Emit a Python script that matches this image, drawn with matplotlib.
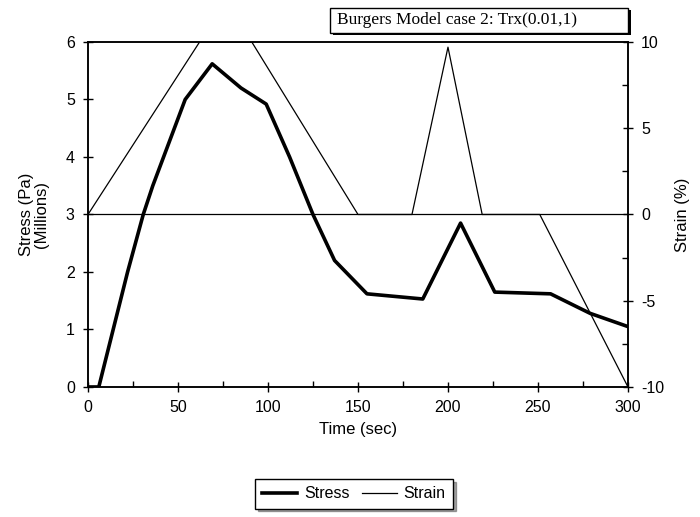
import matplotlib
matplotlib.use('Agg')
import matplotlib.pyplot as plt
from matplotlib.patches import Rectangle
from matplotlib.lines import Line2D

# data
stress_t = [0, 6, 22, 30.7, 36, 42, 54, 69, 85, 99, 112, 125, 137, 155, 186, 207, 226, 257, 279, 300]
stress_v = [0, 0, 2.0, 3.0, 3.5, 4.0, 5.0, 5.62, 5.2, 4.92, 4.0, 3.0, 2.2, 1.62, 1.53, 2.85, 1.65, 1.62, 1.28, 1.05]

strain_t = [0, 62, 91, 150, 180, 200, 219, 251, 300]
strain_v = [0, 10, 10, 0, 0, 9.7, 0, 0, -10]

title = "Burgers Model case 2: Trx(0.01,1)"

plt.rcParams['font.family'] = ['Liberation Sans', 'DejaVu Sans']

fig = plt.figure(figsize=(7, 5.17), dpi=100)
ax = fig.add_axes([0.1257, 0.2515, 0.7714, 0.6673])
ax2 = ax.twinx()

ax.plot(stress_t, stress_v, color='black', lw=2.6, zorder=3)
ax2.plot(strain_t, strain_v, color='black', lw=0.9, zorder=3)
ax2.axhline(0, color='black', lw=0.9)

ax.set_xlim(0, 300)
ax.set_ylim(0, 6)
ax2.set_ylim(-10, 10)
ax.set_xticks(range(0, 301, 50))
ax.set_xticks(range(25, 300, 50), minor=True)
ax.set_yticks(range(0, 7))
ax2.set_yticks([-10, -5, 0, 5, 10])
ax2.set_yticks([-7.5, -2.5, 2.5, 7.5], minor=True)
ax2.set_yticklabels(['-10', '-5', '0', '5', '10'])

for a in (ax, ax2):
    a.tick_params(axis='both', which='major', direction='inout', length=7, width=1, labelsize=11.5, pad=6)
    a.tick_params(axis='both', which='minor', direction='in', length=4, width=1)
    for s in a.spines.values():
        s.set_linewidth(1.1)

ax.set_xlabel('Time (sec)', fontsize=12, labelpad=5)
ax.set_ylabel('Stress (Pa)\n(Millions)', fontsize=12, labelpad=12, linespacing=1.0)
ax2.set_ylabel('Strain (%)', fontsize=12, labelpad=8)

# title box with shadow
fig.patches.append(Rectangle((333 / 700, 1 - 35 / 517), 298 / 700, 25 / 517,
                             transform=fig.transFigure, fc='black', ec='none', zorder=1))
fig.patches.append(Rectangle((330 / 700, 1 - 33 / 517), 298 / 700, 25 / 517,
                             transform=fig.transFigure, fc='white', ec='black', lw=1.0, zorder=2))
fig.text(337 / 700, 1 - 20.5 / 517, title, ha='left', va='center', fontsize=12.5,
         family=['Liberation Serif', 'DejaVu Serif'], zorder=3)

handles = [Line2D([], [], color='black', lw=2.6), Line2D([], [], color='black', lw=0.9)]
leg = fig.legend(handles, ['Stress', 'Strain'], loc='center', bbox_to_anchor=(354 / 700, 1 - 494 / 517),
                 ncol=2, fontsize=11.5, frameon=True, fancybox=False, shadow=True,
                 handlelength=2.2, handletextpad=0.4, columnspacing=0.8, borderpad=0.45)
leg.get_frame().set_edgecolor('black')
leg.get_frame().set_linewidth(1.0)

fig.savefig('out.png', dpi=100)
